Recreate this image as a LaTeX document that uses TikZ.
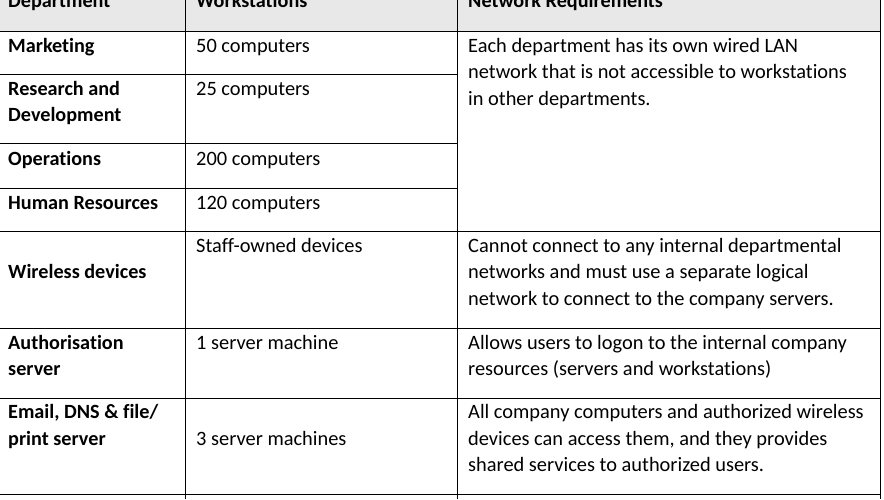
\documentclass[tikz,border=0pt]{standalone}
\usepackage{fontspec}
\setmainfont{Carlito}[Ligatures={NoCommon}]
\begin{document}
\begin{tikzpicture}[x=1pt,y=-1pt,
  cell/.style={anchor=west,inner sep=0pt,text height=14pt,text depth=4pt,font=\fontsize{20.4}{22}\selectfont},
  hd/.style={cell,font=\fontsize{20.2}{22}\selectfont\bfseries},
  rule/.style={line width=0.8pt,black}]
\useasboundingbox (0,0) rectangle (884,499);
\fill[gray!18] (0,0) rectangle (880,31);
\foreach \y in {31,231,328,398,494} \draw[rule] (0,\y) -- (880,\y);
\foreach \y in {74,143,188} \draw[rule] (0,\y) -- (457,\y);
\foreach \x in {185,457,880} \draw[rule] (\x,0) -- (\x,499);
% header
\node[hd] (h1) at (8,2) {Department};
\node[hd] (h2) at (196,2) {Workstations};
\node[hd] (h3) at (468,2) {Network Requirements};
% col1
\node[hd] (a1) at (8,47) {Marketing};
\node[hd] (a2) at (8,90) {Research and};
\node[hd] (a2b) at (8,116) {Development};
\node[hd] (a3) at (8,160) {Operations};
\node[hd] (a4) at (8,204) {Human Resources};
\node[hd] (a5) at (8,273) {Wireless devices};
\node[hd] (a6) at (8,344) {Authorisation};
\node[hd] (a6b) at (8,370) {server};
\node[hd] (a7) at (8,413) {Email, DNS \& file/};
\node[hd] (a7b) at (8,440) {print server};
% col2
\node[cell] (b1) at (196,47) {50 computers};
\node[cell] (b2) at (196,90) {25 computers};
\node[cell] (b3) at (196,160) {200 computers};
\node[cell] (b4) at (196,204) {120 computers};
\node[cell] (b5) at (196,247) {Staff-owned devices};
\node[cell] (b6) at (196,344) {1 server machine};
\node[cell] (b7) at (196,440) {3 server machines};
% col3
\node[cell] (c1) at (468,47) {Each department has its own wired LAN};
\node[cell] (c1b) at (468,73) {network that is not accessible to workstations};
\node[cell] (c1c) at (468,100) {in other departments.};
\node[cell] (c5) at (468,247) {Cannot connect to any internal departmental};
\node[cell] (c5b) at (468,273) {networks and must use a separate logical};
\node[cell] (c5c) at (468,300) {network to connect to the company servers.};
\node[cell] (c6) at (468,344) {Allows users to logon to the internal company};
\node[cell] (c6b) at (468,370) {resources (servers and workstations)};
\node[cell] (c7) at (468,413) {All company computers and authorized wireless};
\node[cell] (c7b) at (468,440) {devices can access them, and they provides};
\node[cell] (c7c) at (468,466) {shared services to authorized users.};
\end{tikzpicture}
\end{document}
